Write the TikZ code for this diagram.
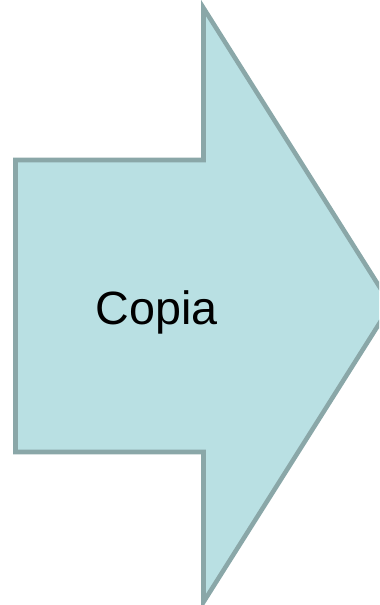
\documentclass[tikz,border=0pt]{standalone}
\usepackage{fontspec}
\setmainfont{Liberation Sans}
\usepackage{xcolor}

\begin{document}
\begin{tikzpicture}[x=0.75pt,y=0.75pt,yscale=-1,xscale=1]

\clip (0,0) rectangle (379,605) ;

\draw [color={rgb, 255:red, 138; green, 167; blue, 168 }  ,draw opacity=1 ][fill={rgb, 255:red, 185; green, 224; blue, 227 }  ,fill opacity=1 ][line width=3.4]  [line join=miter]  (15.5,160) -- (203.5,160) -- (203.5,8) -- (391,305) -- (203.5,602) -- (203.5,452) -- (15.5,452) -- cycle ;

\draw (156.5,312) node (copia) [inner sep=0.75pt]  [font=\fontsize{35}{42}\selectfont] [align=left] {Copia};

\end{tikzpicture}
\end{document}
